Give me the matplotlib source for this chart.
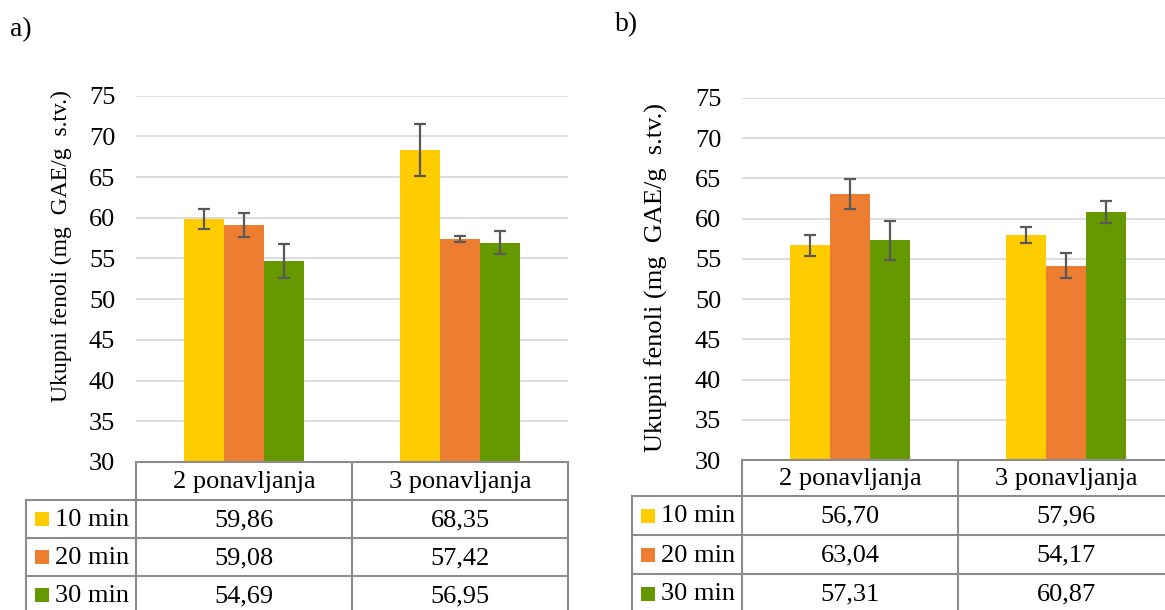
import matplotlib
matplotlib.use("Agg")
import matplotlib.pyplot as plt
import numpy as np

plt.rcParams["font.family"] = ["Liberation Serif", "DejaVu Serif"]

# measured totals, mg GAE/g dry matter
categories = ["2 ponavljanja", "3 ponavljanja"]
series = ["10 min", "20 min", "30 min"]

a_10 = [59.86, 68.35]
a_20 = [59.08, 57.42]
a_30 = [54.69, 56.95]
a_err_10 = [1.2, 3.2]
a_err_20 = [1.5, 0.4]
a_err_30 = [2.1, 1.4]

b_10 = [56.70, 57.96]
b_20 = [63.04, 54.17]
b_30 = [57.31, 60.87]
b_err_10 = [1.3, 1.0]
b_err_20 = [1.9, 1.6]
b_err_30 = [2.4, 1.35]

COLORS = ["#FFCC00", "#ED7D31", "#669900"]
GRID = "#D9D9D9"
TABLE = "#8C8C8C"
ERR = "#595959"
YLABEL = "Ukupni fenoli (mg  GAE/g  s.tv.)"
FS = 19

W, H = 1165, 610
fig = plt.figure(figsize=(W / 100, H / 100), dpi=100)

# overlay in pixel coordinates (origin top-left) for the tables and labels
over = fig.add_axes([0, 0, 1, 1], zorder=5)
over.set_xlim(0, W)
over.set_ylim(H, 0)
over.axis("off")


def px_axes(left, top, right, bottom):
    return fig.add_axes([left / W, (H - bottom) / H, (right - left) / W, (bottom - top) / H])


def panel(box, vals, errs, label_xy, label_size, tag, tag_xy, table_rows, legend_left):
    left, top, right, bottom = box
    ax = px_axes(left, top, right, bottom)
    x = np.arange(len(categories))
    w = 40 / 216
    for i, (v, e) in enumerate(zip(vals, errs)):
        ax.bar(x + (i - 1) * w, v, w, color=COLORS[i], zorder=2)
        ax.errorbar(x + (i - 1) * w, v, yerr=e, fmt="none", ecolor=ERR,
                    elinewidth=1.6, capsize=4.5, capthick=1.6, zorder=3)
    ax.set_xlim(-0.5, 1.5)
    ax.set_ylim(30, 75)
    ax.set_yticks(range(30, 80, 5))
    ax.yaxis.grid(True, color=GRID, linewidth=1.3, zorder=0)
    ax.set_axisbelow(True)
    ax.set_xticks([])
    ax.tick_params(axis="y", length=0, pad=15, labelsize=FS)
    for s in ax.spines.values():
        s.set_visible(False)

    over.text(label_xy[0], label_xy[1], YLABEL, rotation=90, ha="center",
              va="center", fontsize=label_size)
    over.text(tag_xy[0], tag_xy[1], tag, ha="center", va="center", fontsize=20)

    # data table under the plot: column edges follow the category spans
    edges = [left + (right - left) * (e + 0.5) / 2 for e in (-0.5, 0.5, 1.5)]
    right_end = min(edges[2], W + 20)
    row_tops = table_rows
    lw = 1.5
    over.plot([edges[0], right_end], [bottom, bottom], color=TABLE, lw=lw)
    for y in row_tops[:-1]:
        over.plot([legend_left, right_end], [y, y], color=TABLE, lw=lw)
    over.plot([legend_left, legend_left], [row_tops[0], H + 10], color=TABLE, lw=lw)
    for xe in edges:
        over.plot([xe, xe], [bottom, H + 10], color=TABLE, lw=lw)

    header_y = (bottom + row_tops[0]) / 2 + 1
    for j, cat in enumerate(categories):
        over.text((edges[j] + edges[j + 1]) / 2, header_y, cat, ha="center",
                  va="center", fontsize=FS)
    for i, name in enumerate(series):
        yc = (row_tops[i] + row_tops[i + 1]) / 2 + 1
        over.add_patch(plt.Rectangle((legend_left + 9, yc - 8), 14, 14,
                                     color=COLORS[i], lw=0))
        over.text(legend_left + 29, yc, name, ha="left", va="center", fontsize=FS)
        for j in range(len(categories)):
            txt = f"{vals[i][j]:.2f}".replace(".", ",")
            over.text((edges[j] + edges[j + 1]) / 2, yc, txt, ha="center",
                      va="center", fontsize=FS)
    return ax


panel((136, 95.7, 568, 462), [a_10, a_20, a_30], [a_err_10, a_err_20, a_err_30],
      (61, 246), 17, "a)", (21, 30), [500, 538, 576, 614], 26)
panel((742, 98, 1174, 460), [b_10, b_20, b_30], [b_err_10, b_err_20, b_err_30],
      (656, 277), 19, "b)", (627, 25), [496, 535, 574, 613], 632)

fig.savefig("out.png", dpi=100)
